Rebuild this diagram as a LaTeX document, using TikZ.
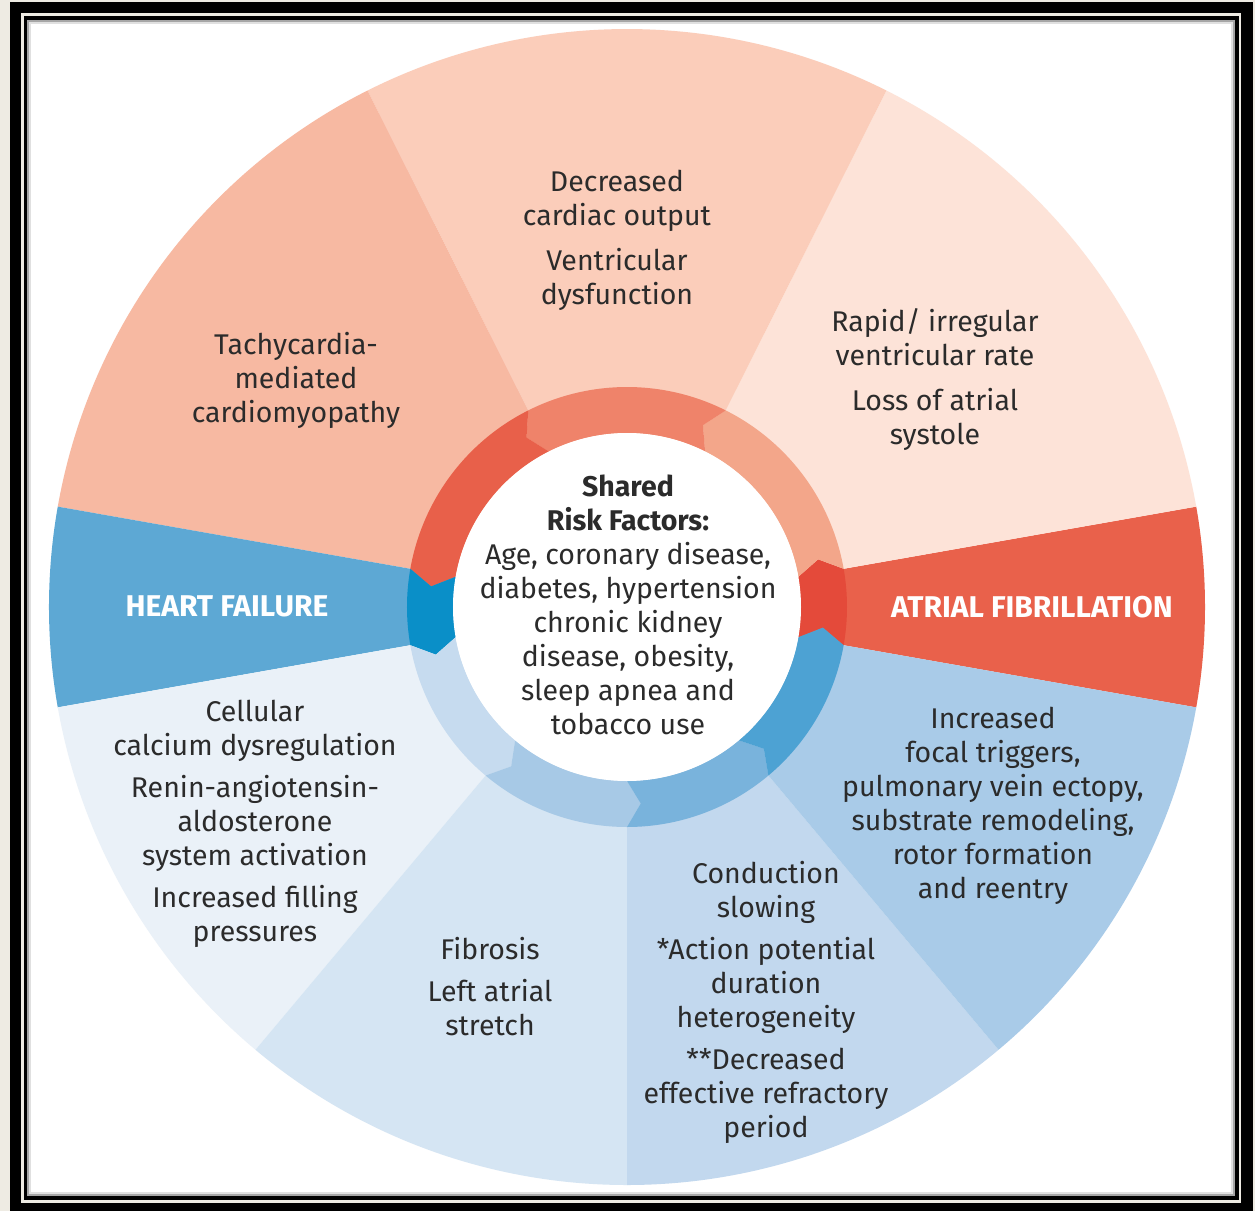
\documentclass[tikz,border=0pt]{standalone}
\usepackage{fontspec}
\setmainfont{Fira Sans}
\definecolor{paper}{HTML}{EEEBE3}
\definecolor{txtgray}{HTML}{2B2B2B}
% sectors
\definecolor{afband}{HTML}{E9614B}
\definecolor{rapidbg}{HTML}{FDE3D8}
\definecolor{outputbg}{HTML}{FBCDBA}
\definecolor{tachybg}{HTML}{F7B9A2}
\definecolor{hfband}{HTML}{5DA8D4}
\definecolor{cellbg}{HTML}{EAF1F8}
\definecolor{fibrobg}{HTML}{D5E5F3}
\definecolor{conductbg}{HTML}{C2D8EE}
\definecolor{focalbg}{HTML}{A9CBE8}
% ring
\definecolor{ringaf}{HTML}{E44A3A}
\definecolor{ringone}{HTML}{F3A68A}
\definecolor{ringtwo}{HTML}{EF836A}
\definecolor{ringthree}{HTML}{E8604A}
\definecolor{ringhf}{HTML}{0A8FC8}
\definecolor{ringfour}{HTML}{C6DBEF}
\definecolor{ringfive}{HTML}{A7C9E6}
\definecolor{ringsix}{HTML}{79B3DC}
\definecolor{ringseven}{HTML}{4DA2D3}

\begin{document}
\begin{tikzpicture}[x=1pt, y=1pt,
  factor/.style={text=txtgray, align=center, font=\fontsize{28.5}{34}\selectfont},
  band/.style={text=white, font=\fontsize{30}{34}\selectfont\bfseries}]
\useasboundingbox (-627,-604) rectangle (628,607);
% frame
\fill[paper] (-627,-604) rectangle (628,607);
\fill[black] (-617,-604) rectangle (626,605);
\fill[paper] (-606,-596) rectangle (614,594);
\fill[black] (-603,-593) rectangle (612,591);
\fill[white] (-600,-589) rectangle (608,587);
\draw[black!35, line width=2] (-599,-588) rectangle (607,586);
\draw[black!12, line width=2] (-597,-586) rectangle (605,584);
% sectors
\foreach \a/\b/\c in {-10/10/afband, 10/63.33/rapidbg, 63.33/116.67/outputbg,
    116.67/170/tachybg, 170/190/hfband, 190/230/cellbg, 230/270/fibrobg,
    270/310/conductbg, 310/350/focalbg}
  \fill[\c] (0,0) -- (\a:578) arc[start angle=\a, end angle=\b, radius=578] -- cycle;
% ring of arrows
\foreach \a/\b/\c in {-10/10/ringaf, 10/63.33/ringone, 63.33/116.67/ringtwo,
    116.67/170/ringthree, 170/190/ringhf, 190/230/ringfour, 230/270/ringfive,
    270/310/ringsix, 310/350/ringseven}
  \fill[\c] (\a:174) -- ({\a+4}:197) -- (\a:220)
    arc[start angle=\a, end angle=\b, radius=220]
    -- ({\b+4}:197) -- (\b:174)
    arc[start angle=\b, end angle=\a, radius=174] -- cycle;
\fill[white] (0,0) circle[radius=174];
% texts
\node[factor] (risk) at (1,2.5) {\textbf{Shared}\\\textbf{Risk Factors:}\\Age, coronary disease,\\diabetes, hypertension\\chronic kidney\\disease, obesity,\\sleep apnea and\\tobacco use};
\node[band] (hf) at (-400,1) {HEART FAILURE};
\node[band] (af) at (405,0) {ATRIAL FIBRILLATION};
\node[factor] (tachy) at (-331,226.5) {Tachycardia-\\mediated\\cardiomyopathy};
\node[factor] (output) at (-10,367) {Decreased\\cardiac output\\[11pt]Ventricular\\dysfunction};
\node[factor] (rapid) at (308,227) {Rapid/ irregular\\ventricular rate\\[11pt]Loss of atrial\\systole};
\node[factor] (cell) at (-372,-216.5) {Cellular\\calcium dysregulation\\[8pt]Renin-angiotensin-\\aldosterone\\system activation\\[8pt]Increased filling\\pressures};
\node[factor] (fibro) at (-137,-380) {Fibrosis\\[8pt]Left atrial\\stretch};
\node[factor] (conduct) at (139,-395.5) {Conduction\\slowing\\[8pt]*Action potential\\duration\\heterogeneity\\[8pt]**Decreased\\effective refractory\\period};
\node[factor] (focal) at (366,-199) {Increased\\focal triggers,\\pulmonary vein ectopy,\\substrate remodeling,\\rotor formation\\and reentry};
\end{tikzpicture}
\end{document}
